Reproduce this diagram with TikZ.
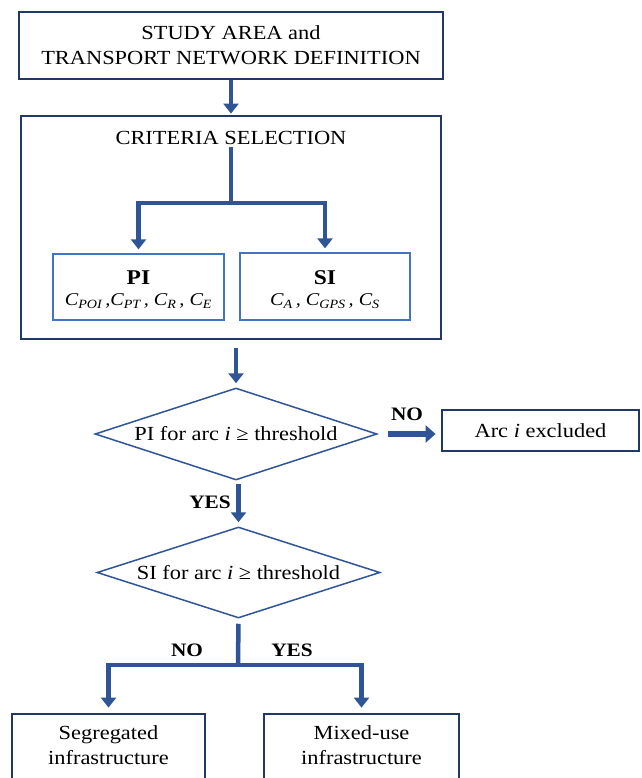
\documentclass[tikz,border=0pt]{standalone}
\usepackage{fontspec}
\setmainfont{Liberation Serif}[FakeStretch=1.12]
\usetikzlibrary{arrows.meta,shapes.geometric}
\definecolor{navy}{RGB}{31,56,100}
\definecolor{midblue}{RGB}{47,85,151}
\definecolor{lightblue}{RGB}{68,114,196}
\tikzset{
  navybox/.style={draw=navy, line width=2.8pt, rectangle, inner sep=0pt, align=center},
  subbox/.style={draw=lightblue, line width=1.3pt, rectangle, inner sep=0pt, align=center},
  decision/.style={draw=midblue, line width=1.5pt, diamond, aspect=3.07, inner sep=0pt, align=center},
  txt/.style={font=\fontsize{20}{25}\selectfont, align=center, inner sep=0pt},
  lbl/.style={font=\fontsize{19}{22}\selectfont\bfseries, inner sep=0pt},
  conn/.style={draw=midblue, line width=4.5pt},
  arr/.style={conn, -{Triangle[width=15pt,length=10pt]}},
}
\begin{document}
\begin{tikzpicture}[x=1pt,y=-1pt]
\clip (0,0) rectangle (641,778);
\fill[white] (0,0) rectangle (641,778);

% top box
\node[navybox, txt, minimum width=424pt, minimum height=67pt] (study) at (231,45.5)
  {STUDY AREA and\\TRANSPORT NETWORK DEFINITION};

% criteria box
\node[navybox, minimum width=420pt, minimum height=223pt] (critbox) at (231,227.5) {};
\node[txt] (crit) at (231,138) {CRITERIA SELECTION};
\coordinate (split1) at (231,203);

\node[subbox, minimum width=171pt, minimum height=66pt] (pi) at (138.5,287) {};
\node[font=\fontsize{21}{24}\selectfont\bfseries, inner sep=0pt] (pit) at (138.5,278) {PI};
\node[font=\fontsize{18}{22}\selectfont\itshape, inner sep=0pt] (pif) at (138.5,301)
  {C\textsubscript{POI}\,,C\textsubscript{PT}\,, C\textsubscript{R}\,, C\textsubscript{E}};
\node[subbox, minimum width=170pt, minimum height=67pt] (si) at (325,286.5) {};
\node[font=\fontsize{21}{24}\selectfont\bfseries, inner sep=0pt] (sit) at (325,278) {SI};
\node[font=\fontsize{18}{22}\selectfont\itshape, inner sep=0pt] (sif) at (325,301)
  {C\textsubscript{A}\,, C\textsubscript{GPS}\,, C\textsubscript{S}};

% decisions
\node[decision, minimum width=282pt, minimum height=92pt] (d1) at (236,434)
  {\fontsize{20}{24}\selectfont PI for arc \textit{i} ≥ threshold};
\node[navybox, txt, minimum width=197pt, minimum height=41pt] (excl) at (540.5,430.5)
  {Arc \textit{i} excluded};
\node[decision, minimum width=283pt, minimum height=91pt] (d2) at (238.5,572.5)
  {\fontsize{20}{24}\selectfont SI for arc \textit{i} ≥ threshold};
\coordinate (split2) at (238,665);

% bottom boxes
\node[navybox, minimum width=193pt, minimum height=90pt] (seg) at (108.5,759) {};
\node[txt] (segt) at (108.5,745.5) {Segregated\\infrastructure};
\node[navybox, minimum width=195pt, minimum height=90pt] (mix) at (361.5,759) {};
\node[txt] (mixt) at (361.5,745.5) {Mixed-use\\infrastructure};

% connectors
\draw[arr, shorten >=1pt] (study.south) -- (critbox.north);
\draw[conn] (crit.south) ++(0,2) -- (split1);
\draw[arr, shorten >=4pt] (split1) -| (pi.north);
\draw[arr, shorten >=4pt] (split1) -| (si.north);
\draw[arr, shorten <=8pt, shorten >=4pt] (critbox.south -| d1.north) -- (d1.north);
\draw[arr, line width=6.5pt, -{Triangle[width=17pt,length=10pt]}, shorten <=10pt, shorten >=5pt] (d1.east) -- (d1.east -| excl.west);
\draw[arr, shorten <=3pt, shorten >=4pt] (d1.south -| d2.north) -- (d2.north);
\draw[conn, shorten <=5pt] (d2.south) -- (split2);
\draw[arr, shorten >=5pt] (split2) -| (seg.north);
\draw[arr, shorten >=5pt] (split2) -| (mix.north);

% labels
\node[lbl] (lno1) at (407,414) {NO};
\node[lbl] (lyes1) at (210,502) {YES};
\node[lbl] (lno2) at (187,650) {NO};
\node[lbl] (lyes2) at (292,650) {YES};
\end{tikzpicture}
\end{document}
